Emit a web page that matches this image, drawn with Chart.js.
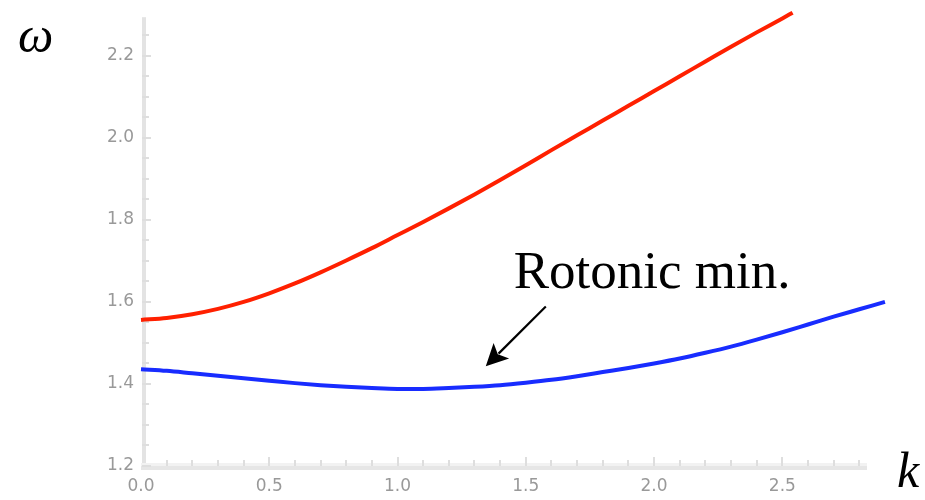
<!DOCTYPE html>
<html>
<head>
<meta charset="utf-8">
<script src="https://cdn.jsdelivr.net/npm/chart.js@4.4.1/dist/chart.umd.min.js"></script>
<style>
  html,body{margin:0;padding:0;background:#fff;}
  #wrap{width:925px;height:500px;position:relative;}
</style>
</head>
<body>
<div id="wrap"><canvas id="c" width="925" height="500"></canvas></div>
<script>
// ---- data ----
const redK = [0,0.1,0.2,0.3,0.4,0.5,0.6,0.7,0.8,0.9,1.0,1.1,1.2,1.3,1.4,1.5,1.6,1.7,1.8,1.9,2.0,2.1,2.2,2.3,2.4,2.5,2.54];
const redW = [1.556,1.561,1.570,1.583,1.600,1.621,1.645,1.672,1.701,1.731,1.763,1.795,1.828,1.862,1.897,1.933,1.970,2.006,2.042,2.078,2.114,2.150,2.186,2.222,2.257,2.291,2.305];
const blueK = [0,0.1,0.2,0.3,0.4,0.5,0.6,0.7,0.8,0.9,1.0,1.1,1.2,1.3,1.4,1.5,1.6,1.7,1.8,1.9,2.0,2.1,2.2,2.3,2.4,2.5,2.6,2.7,2.8,2.9];
const blueW = [1.436,1.432,1.426,1.420,1.414,1.408,1.402,1.397,1.393,1.390,1.388,1.388,1.390,1.393,1.397,1.403,1.410,1.419,1.429,1.439,1.450,1.462,1.476,1.491,1.508,1.526,1.545,1.564,1.582,1.600];
const xTicks = [0.0,0.5,1.0,1.5,2.0,2.5];
const yTicks = [1.2,1.4,1.6,1.8,2.0,2.2];
const xMinorStep = 0.1;
const yMinorStep = 0.05;
const xRange = [0, 2.83];
const yRange = [1.2, 2.294];
const annotationText = "Rotonic min.";
const annotationTextAt = [1.453, 1.635];
const arrowFrom = [1.578, 1.589];
const arrowTo = [1.344, 1.443];
const yTitle = "ω";
const xTitle = "k";

const toPts = (ks, ws) => ks.map((k, i) => ({x: k, y: ws[i]}));

const decor = {
  id: 'decor',
  beforeDatasetsDraw(chart) {
    const {ctx, chartArea: a, scales: {x, y}} = chart;
    ctx.save();
    // axis lines
    ctx.fillStyle = '#e3e3e3';
    ctx.fillRect(a.left + 1, a.top, 4, a.bottom - a.top + 3);
    ctx.fillStyle = '#f2f2f2';
    ctx.fillRect(a.left, a.bottom - 3, a.right - a.left, 3);
    ctx.fillStyle = '#e6e6e6';
    ctx.fillRect(a.left, a.bottom, a.right - a.left, 4);
    ctx.fillStyle = '#dedede';
    // y ticks
    for (let v = yRange[0]; v <= yRange[1] + 1e-9; v += yMinorStep) {
      const vv = Math.round(v * 1000) / 1000;
      const major = yTicks.some(t => Math.abs(t - vv) < 1e-6);
      const py = Math.round(y.getPixelForValue(vv));
      ctx.fillRect(a.left + 1, py - 1, major ? 9 : 7, 2);
    }
    // x ticks
    for (let v = xRange[0]; v <= xRange[1] + 1e-9; v += xMinorStep) {
      const vv = Math.round(v * 1000) / 1000;
      const major = xTicks.some(t => Math.abs(t - vv) < 1e-6);
      const px = Math.round(x.getPixelForValue(vv));
      if (vv === 0) continue;
      ctx.fillRect(px - 1, a.bottom - (major ? 9 : 6), 2, major ? 9 : 6);
    }
    ctx.restore();
  },
  afterDatasetsDraw(chart) {
    const {ctx, chartArea: a, scales: {x, y}} = chart;
    ctx.save();
    ctx.fillStyle = '#000';
    ctx.strokeStyle = '#000';
    // annotation text
    ctx.font = '53px "Liberation Serif", "Times New Roman", serif';
    ctx.textBaseline = 'alphabetic';
    ctx.textAlign = 'left';
    ctx.fillText(annotationText, x.getPixelForValue(annotationTextAt[0]), y.getPixelForValue(annotationTextAt[1]));
    // arrow
    const x0 = x.getPixelForValue(arrowFrom[0]), y0 = y.getPixelForValue(arrowFrom[1]);
    const x1 = x.getPixelForValue(arrowTo[0]), y1 = y.getPixelForValue(arrowTo[1]);
    const ang = Math.atan2(y1 - y0, x1 - x0);
    const hl = 22, hw = 11;
    const bx = x1 - hl * Math.cos(ang), by = y1 - hl * Math.sin(ang);
    ctx.lineWidth = 2.2;
    ctx.beginPath();
    ctx.moveTo(x0, y0);
    ctx.lineTo(bx + 4 * Math.cos(ang), by + 4 * Math.sin(ang));
    ctx.stroke();
    const nx = -Math.sin(ang), ny = Math.cos(ang);
    ctx.beginPath();
    ctx.moveTo(x1, y1);
    ctx.lineTo(bx + nx * hw, by + ny * hw);
    ctx.lineTo(bx + 5 * Math.cos(ang), by + 5 * Math.sin(ang));
    ctx.lineTo(bx - nx * hw, by - ny * hw);
    ctx.closePath();
    ctx.fill();
    // axis titles
    ctx.font = 'italic 50px "Liberation Serif", "Times New Roman", serif';
    ctx.fillText(yTitle, a.left - 123, a.top + 35);
    ctx.fillText(xTitle, a.right + 30, a.bottom + 21);
    ctx.restore();
  }
};

new Chart(document.getElementById('c'), {
  type: 'scatter',
  data: {
    datasets: [
      {data: toPts(redK, redW), showLine: true, borderColor: 'rgb(255,32,0)', borderWidth: 4,
       pointRadius: 0, cubicInterpolationMode: 'monotone', clip: false},
      {data: toPts(blueK, blueW), showLine: true, borderColor: 'rgb(24,44,255)', borderWidth: 4,
       pointRadius: 0, cubicInterpolationMode: 'monotone', clip: false}
    ]
  },
  options: {
    responsive: false,
    animation: false,
    events: [],
    layout: {padding: {top: 11, right: 58, bottom: 0, left: 0}},
    plugins: {legend: {display: false}, tooltip: {enabled: false}},
    scales: {
      x: {
        type: 'linear', min: xRange[0], max: xRange[1],
        grid: {display: false, drawTicks: false},
        border: {display: false},
        afterFit(s) { s.height = 34; },
        afterBuildTicks(s) { s.ticks = xTicks.map(v => ({value: v})); },
        ticks: {padding: 10, color: '#999999', font: {family: 'DejaVu Sans', size: 17},
                maxRotation: 0, autoSkip: false, callback: v => Number(v).toFixed(1)}
      },
      y: {
        type: 'linear', min: yRange[0], max: yRange[1],
        grid: {display: false, drawTicks: false},
        border: {display: false},
        afterFit(s) { s.width = 141; },
        afterBuildTicks(s) { s.ticks = yTicks.map(v => ({value: v})); },
        ticks: {padding: 7, color: '#999999', font: {family: 'DejaVu Sans', size: 17},
                autoSkip: false, callback: v => Number(v).toFixed(1)}
      }
    }
  },
  plugins: [decor]
});
</script>
</body>
</html>
